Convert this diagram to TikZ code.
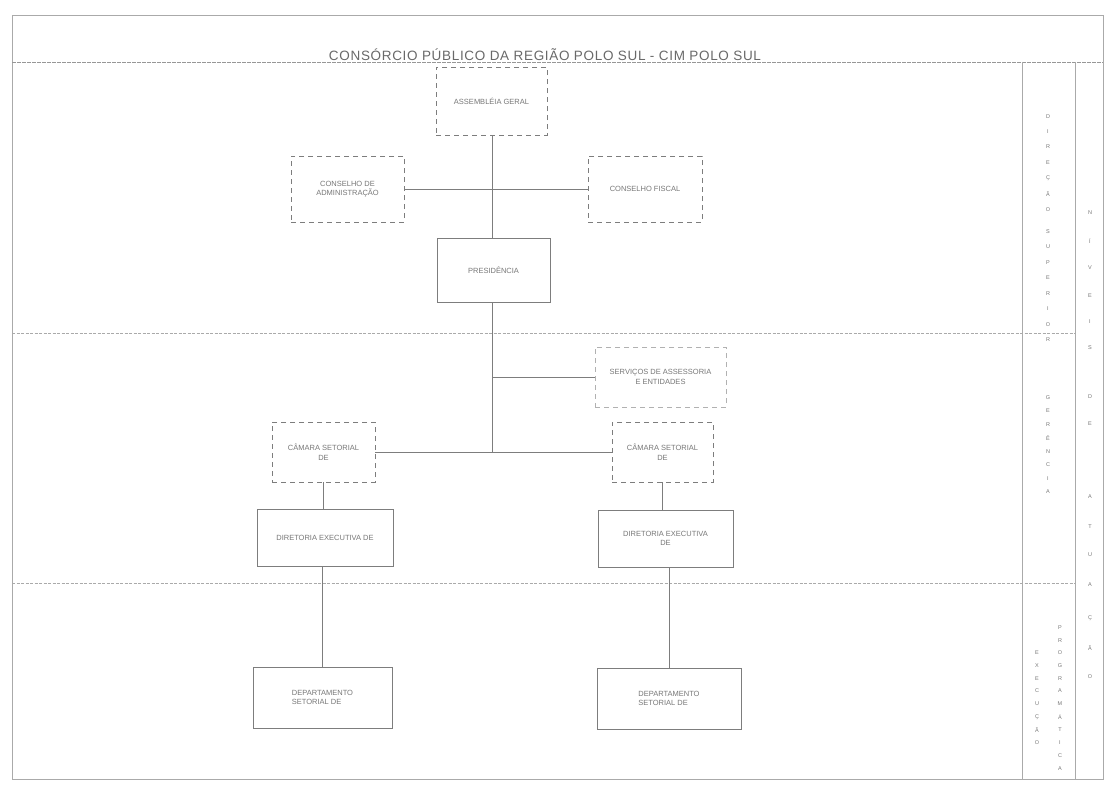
\documentclass[tikz,border=0pt]{standalone}
\usepackage{fontspec}
\setmainfont{Liberation Sans}
\definecolor{linec}{RGB}{125,125,125}
\definecolor{framec}{RGB}{170,170,170}
\definecolor{txtc}{RGB}{120,120,120}
\definecolor{titc}{RGB}{105,105,105}
\begin{document}
\begin{tikzpicture}[x=1pt,y=-1pt,
  every node/.style={font=\fontsize{7.5}{9.5}\selectfont, text=txtc, inner sep=0pt, align=center},
  dbox/.style={draw=linec, line width=0.9pt, dash pattern=on 5pt off 4pt, rectangle},
  sbox/.style={draw=linec, line width=0.9pt, rectangle},
  conn/.style={draw=linec, line width=0.8pt},
  sepline/.style={draw=framec, line width=0.7pt, dash pattern=on 3pt off 1.5pt},
  frameline/.style={draw=framec, line width=0.6pt},
  letter/.style={font=\fontsize{5.5}{6}\selectfont, text=txtc}]
\useasboundingbox (0,0) rectangle (1111,793);
\fill[white] (0,0) rectangle (1111,793);

% frame and separators
\draw[frameline] (12,15) -- (1103,15) -- (1103,779) -- (12,779) -- cycle;
\draw[draw=linec!80, line width=0.9pt, dash pattern=on 4pt off 1pt] (12,62) -- (1103,62);
\draw[sepline] (12,333) -- (1075,333);
\draw[sepline] (12,583) -- (1075,583);
\draw[frameline] (1022,62) -- (1022,779);
\draw[frameline] (1075,62) -- (1075,779);

% title
\node[font=\fontsize{13.5}{15}\selectfont\addfontfeature{LetterSpace=5}, text=titc] (title) at (545,55) {CONSÓRCIO PÚBLICO DA REGIÃO POLO SUL - CIM POLO SUL};

% boxes
\node[dbox, minimum width=111, minimum height=68] (ag) at (491.5,101) {ASSEMBLÉIA GERAL};
\node[dbox, minimum width=113, minimum height=66] (cadm) at (347.5,189) {CONSELHO DE\\ADMINISTRAÇÃO};
\node[dbox, minimum width=114, minimum height=66] (cfis) at (645,189) {CONSELHO FISCAL};
\node[sbox, minimum width=113, minimum height=64] (pres) at (493.5,270) {PRESIDÊNCIA};
\node[dbox, draw=linec!60, minimum width=131, minimum height=60] (serv) at (660.5,377) {SERVIÇOS DE ASSESSORIA\\E ENTIDADES};
\node[dbox, minimum width=103, minimum height=60] (camL) at (323.5,452) {CÂMARA SETORIAL\\DE};
\node[dbox, minimum width=101, minimum height=60] (camR) at (662.5,452) {CÂMARA SETORIAL\\DE};
\node[sbox, minimum width=136, minimum height=57] (dirL) at (325,537.5) {DIRETORIA EXECUTIVA DE};
\node[sbox, minimum width=135, minimum height=57] (dirR) at (665.5,538.5) {DIRETORIA EXECUTIVA\\DE};
\node[sbox, minimum width=139, minimum height=61, align=left] (depL) at (322.5,697.5) {DEPARTAMENTO\\SETORIAL DE};
\node[sbox, minimum width=144, minimum height=61, align=left] (depR) at (669,698.5) {DEPARTAMENTO\\SETORIAL DE};

% connectors
\coordinate (spine) at (492,0);
\draw[conn] (ag.south -| spine) -- (pres.north -| spine);
\draw[conn] (cadm.east) -- (cfis.west);
\coordinate (junc) at (spine |- camL.east);
\draw[conn] (pres.south -| spine) -- (junc);
\draw[conn] (spine |- serv.west) -- (serv.west);
\draw[conn] (camL.east) -- (camR.west);
\draw[conn] (camL.south) -- (camL.south |- dirL.north);
\draw[conn] (camR.south) -- (camR.south |- dirR.north);
\draw[conn] (dirL.south -| depL.north) -- (depL.north);
\draw[conn] (dirR.south -| depR.north) -- (depR.north);

% right columns
\foreach \l/\y in {D/117,I/132,R/147,E/163,Ç/178,Ã/194,O/210,
                   S/232,U/247,P/263,E/278,R/294,I/309,O/325,R/340,
                   G/398,E/411,R/425,Ê/438,N/452,C/465,I/479,A/492}
  \node[letter] (a\y) at (1048,\y) {\l};
\foreach \l/\y in {E/653,X/666,E/679,C/691,U/704,Ç/717,Ã/730,O/743}
  \node[letter] (b\y) at (1037,\y) {\l};
\foreach \l/\y in {P/628,R/641,O/653,G/666,R/679,A/691,M/704,Á/717,T/730,I/743,C/756,A/769}
  \node[letter] (c\y) at (1060,\y) {\l};
\foreach \l/\y in {N/213,Í/241,V/268,E/296,I/322,S/348,D/397,E/424,
                   A/497,T/527,U/555,A/585,Ç/618,Ã/648,O/677}
  \node[letter] (e\y) at (1090,\y) {\l};
\end{tikzpicture}
\end{document}
